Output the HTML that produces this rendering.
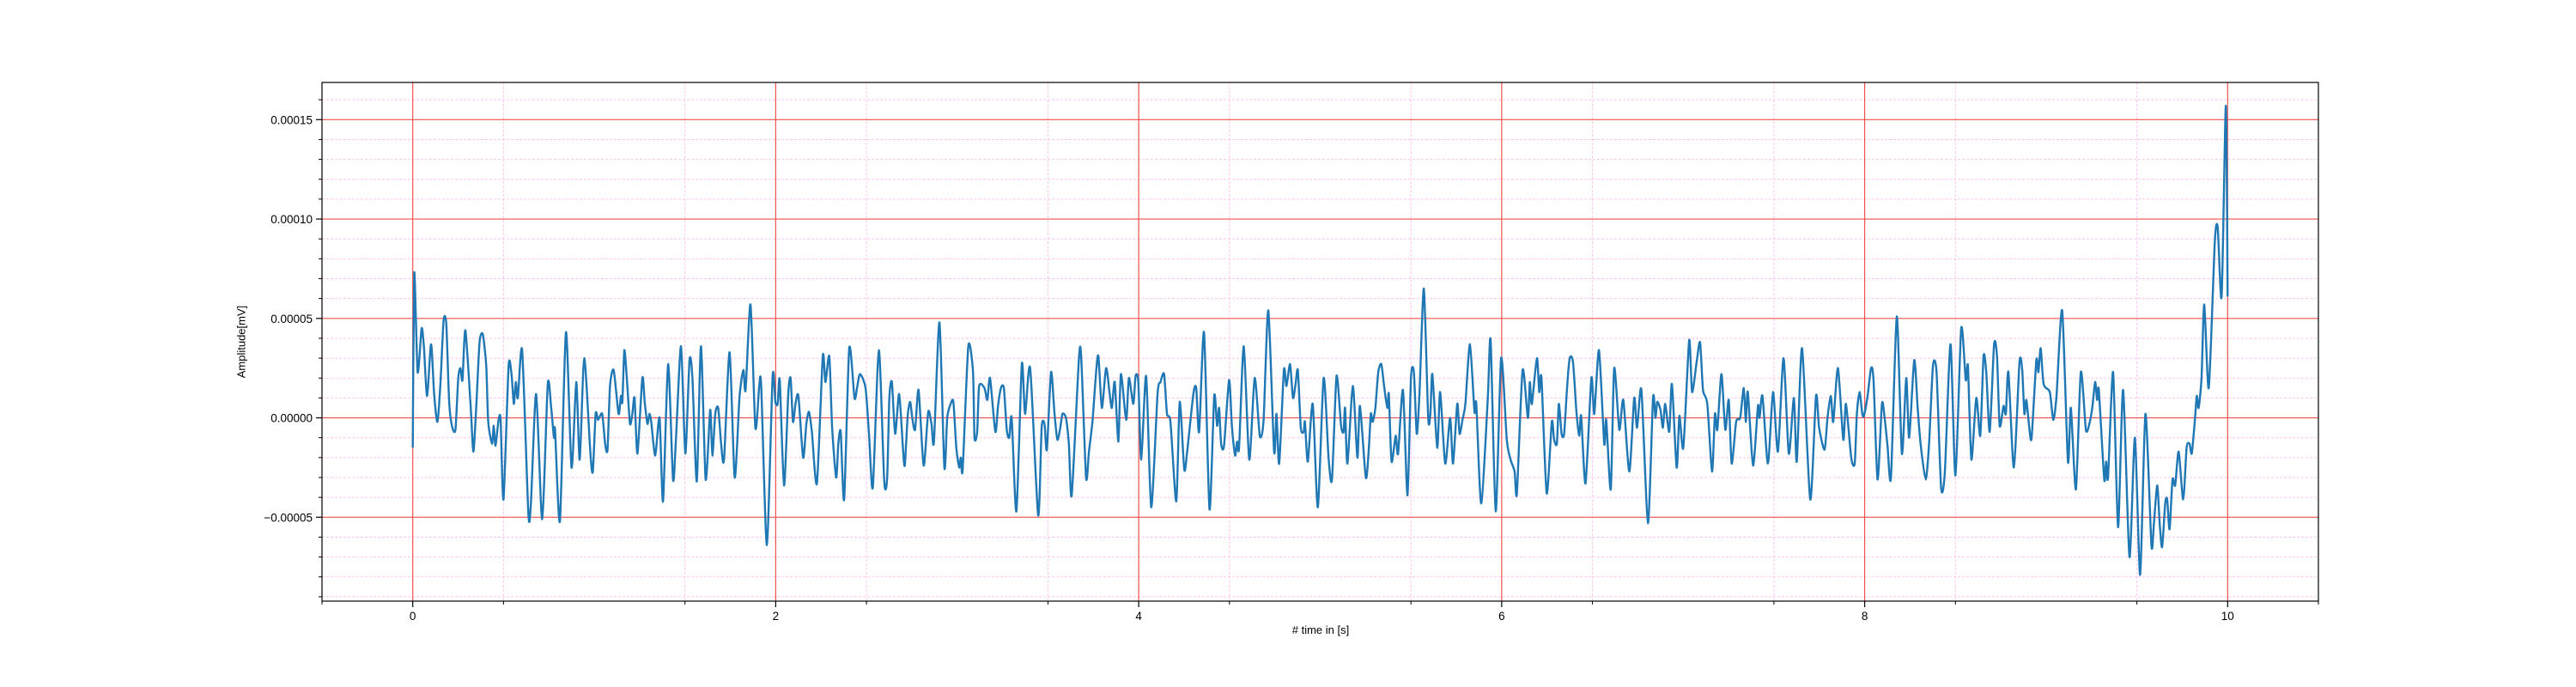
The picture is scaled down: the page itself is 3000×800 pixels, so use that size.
<!DOCTYPE html>
<html><head><meta charset="utf-8"><style>
html,body{margin:0;padding:0;background:#fff;}
svg{display:block;font-family:"Liberation Sans","DejaVu Sans",sans-serif;}
</style></head><body>
<svg id="chart" width="3000" height="800" viewBox="0 0 3000 800">
<g id="grid"></g>
<g id="series"></g>
<g id="axes"></g>
<text x="282" y="398" transform="rotate(-90 282 398)" text-anchor="middle" dominant-baseline="middle" font-size="13" fill="#000">Amplitude[mV]</text>
<text x="1538" y="738" text-anchor="middle" font-size="13" fill="#000"># time in [s]</text>
</svg>
<script>
// data: time (s) and amplitude (units of 1e-5 mV)
const times = [0.000,0.008,0.027,0.049,0.062,0.079,0.101,0.118,0.136,0.153,0.170,0.185,0.200,0.216,0.235,0.251,0.263,0.274,0.290,0.319,0.334,0.350,0.368,0.386,0.405,0.416,0.437,0.446,0.456,0.473,0.484,0.500,0.528,0.544,0.557,0.568,0.579,0.603,0.637,0.651,0.680,0.713,0.744,0.762,0.778,0.784,0.811,0.844,0.875,0.901,0.920,0.945,0.979,0.992,1.008,1.021,1.044,1.060,1.073,1.087,1.107,1.134,1.147,1.155,1.166,1.181,1.197,1.210,1.222,1.238,1.265,1.278,1.293,1.304,1.314,1.336,1.360,1.379,1.407,1.434,1.450,1.478,1.502,1.525,1.541,1.565,1.588,1.614,1.639,1.651,1.667,1.683,1.699,1.715,1.746,1.774,1.801,1.822,1.834,1.861,1.888,1.909,1.920,1.951,1.983,
1.998,2.011,2.022,2.046,2.069,2.082,2.095,2.109,2.125,2.151,2.169,2.183,2.199,2.227,2.259,2.274,2.295,2.311,2.333,2.345,2.358,2.377,2.405,2.434,2.448,2.464,2.495,2.514,2.535,2.568,2.598,2.614,2.626,2.640,2.658,2.680,2.700,2.711,2.727,2.741,2.752,2.768,2.787,2.815,2.840,2.858,2.872,2.902,2.929,2.945,2.964,2.979,2.995,3.011,3.020,3.030,3.061,3.087,3.095,3.110,3.121,3.150,3.166,3.181,3.210,3.225,3.241,3.257,3.273,3.287,3.300,3.326,3.356,3.374,3.402,3.446,3.465,3.481,3.494,3.517,3.536,3.552,3.568,3.580,3.599,3.615,3.631,3.670,3.683,3.710,3.726,3.746,3.765,3.778,3.797,3.820,3.839,3.852,3.868,3.888,3.902,3.931,3.946,3.970,
3.983,3.998,4.014,4.041,4.069,4.104,4.120,4.140,4.156,4.175,4.207,4.226,4.251,4.267,4.301,4.317,4.333,4.360,4.390,4.416,4.432,4.443,4.454,4.470,4.498,4.514,4.531,4.542,4.553,4.579,4.609,4.639,4.667,4.688,4.714,4.746,4.759,4.774,4.800,4.814,4.834,4.850,4.864,4.877,4.893,4.909,4.916,4.932,4.959,4.987,5.019,5.046,5.065,5.090,5.115,5.129,5.137,5.150,5.180,5.205,5.219,5.251,5.267,5.279,5.289,5.304,5.320,5.337,5.352,5.370,5.378,5.393,5.416,5.429,5.456,5.481,5.500,5.516,5.532,5.547,5.571,5.595,5.607,5.618,5.645,5.661,5.689,5.716,5.732,5.755,5.768,5.784,5.800,5.825,5.850,5.860,5.887,5.923,5.939,
5.967,5.997,6.028,6.049,6.071,6.084,6.115,6.144,6.155,6.166,6.194,6.207,6.219,6.248,6.276,6.289,6.304,6.315,6.330,6.344,6.360,6.375,6.393,6.412,6.427,6.438,6.462,6.494,6.510,6.536,6.565,6.576,6.601,6.620,6.648,6.670,6.703,6.730,6.746,6.770,6.806,6.834,6.847,6.857,6.875,6.888,6.901,6.923,6.938,6.964,6.979,7.001,7.033,7.049,7.074,7.093,7.109,7.133,7.159,7.175,7.188,7.211,7.232,7.251,7.267,7.292,7.314,7.334,7.345,7.356,7.385,7.412,7.421,7.437,7.467,7.495,7.522,7.553,7.582,7.610,7.626,7.655,7.700,7.732,7.749,7.779,7.795,7.814,7.827,7.853,7.882,7.897,7.926,7.945,
7.957,7.972,7.987,7.996,8.016,8.035,8.049,8.071,8.095,8.110,8.126,8.145,8.177,8.205,8.229,8.245,8.273,8.292,8.308,8.336,8.355,8.376,8.396,8.421,8.442,8.473,8.500,8.532,8.557,8.569,8.588,8.615,8.637,8.655,8.670,8.689,8.713,8.729,8.744,8.765,8.778,8.792,8.822,8.853,8.868,8.880,8.891,8.907,8.920,8.946,8.957,8.970,8.986,9.020,9.039,9.057,9.088,9.120,9.136,9.164,9.191,9.219,9.238,9.254,9.270,9.281,9.290,9.320,9.330,9.341,9.369,9.396,9.424,9.459,9.489,9.518,9.547,9.580,9.593,9.612,9.626,9.639,9.656,9.667,9.680,9.696,9.711,9.730,9.755,9.774,9.790,9.802,9.818,9.830,9.840,9.856,9.871,9.896,9.929,9.945,9.967,9.990,10.000];
const amps = [-1.5,7.3,2.3,4.5,3.5,1.1,3.7,1.2,-0.2,1.8,4.9,4.7,0.9,-0.4,-0.6,2.0,2.5,1.9,4.4,0.6,-1.7,0.6,3.8,4.2,2.6,-0.2,-1.3,-0.4,-1.4,-0.1,-0.1,-4.1,2.6,2.2,0.7,1.8,1.0,3.4,-4.8,-4.3,1.2,-5.1,1.7,0.6,-1.0,-0.6,-5.2,4.3,-2.5,1.8,-2.1,3.0,-1.8,-2.7,0.2,-0.1,0.2,-1.3,-1.6,1.6,2.4,0.2,1.1,0.8,3.4,1.8,-0.3,0.2,1.0,-1.8,2.0,0.8,-0.3,0.2,-0.2,-1.9,0,-4.2,2.7,-3.1,-1.1,3.6,-1.8,2.9,2.0,-3.2,3.6,-3.1,0.4,-1.9,0.2,0.5,-1.3,-2.1,3.3,-3.0,1.1,2.4,1.4,5.7,-0.5,1.6,1.6,-6.4,2.1,
0.8,0.7,1.9,-3.4,1.2,2.0,-0.2,0.7,1.1,-2.0,-0.3,0.3,-0.7,-3.3,3.1,1.8,3.1,-0.5,-3.0,-1.3,-0.7,-4.1,3.5,1.0,1.5,2.2,1.5,-0.8,-3.5,3.4,-3.2,-3.0,1.0,1.8,-0.8,1.2,-1.4,-2.4,0.1,0.8,0,-0.6,1.4,-2.4,0.3,-0.3,-1.2,4.8,-2.5,0,0.7,0.8,-1.5,-2.5,-2.0,-2.6,3.6,2.3,-1.0,-0.7,1.6,1.5,0.9,2.0,-0.7,0.6,1.5,1.5,-0.6,-1.0,0,-4.7,2.7,0.2,2.5,-4.9,-0.5,-0.3,-1.6,2.3,0.2,-1.1,-0.5,0.2,0,-1.3,-3.9,2.9,3.1,-3.0,-1.7,-0.1,2.3,3.1,0.5,2.5,1.3,0.5,1.8,-1.2,2.2,-0.1,2.0,0.7,
2.1,1.8,-2.1,2.1,-4.5,1.2,1.8,2.2,0.2,-0.2,-4.2,0.8,-2.6,-1.7,1.2,1.5,-0.7,4.3,-4.6,1.1,-0.4,0.5,-1.3,-1.4,1.9,-0.5,-1.9,-1.2,-1.5,3.6,-2.1,2.0,-0.9,-0.1,5.4,-1.7,0.2,-2.3,2.4,1.6,2.7,1.0,1.7,2.4,-0.5,-0.7,-0.2,-2.2,0.7,-4.5,2.0,-2.0,-3.1,2.1,-0.4,-0.7,0.5,-2.3,1.6,-2.0,0.6,-3.0,-1.7,0.2,-0.2,0.5,2.3,2.7,1.6,0.5,1.2,-2.2,-0.9,-1.8,1.4,-3.9,2.0,2.3,-0.8,1.2,6.5,0,0.2,2.2,-1.5,1.3,-2.3,0,-2.3,0.7,-0.8,-0.1,0.7,3.7,0.3,0.7,-4.3,0.9,3.9,
-4.7,3.0,-1.1,-2.1,-2.7,-3.8,2.4,0,1.8,0.7,3.0,1.3,2.0,-3.8,-0.2,-1.1,-1.3,0.7,-0.8,-0.8,1.5,3.0,2.8,0.3,-0.9,0.1,-3.3,2.0,0.2,3.4,-1.3,-0.1,-3.6,2.5,-0.6,0.9,-2.7,1.0,-0.5,1.4,-5.3,1.0,0,0.8,0.4,-0.5,0.7,-0.7,1.7,-2.5,0.1,-1.5,3.9,1.3,2.8,3.8,1.4,0.7,-2.7,0.2,-0.6,2.2,-0.6,0.9,-2.3,-0.2,0,1.5,-0.2,1.3,-2.4,0.6,0,1.1,-2.3,1.3,-1.7,3.0,-1.8,1.0,-2.2,3.5,-4.1,1.1,-0.5,-1.6,0,1.1,-0.2,2.5,-1.1,0.7,-2.0,-2.3,
0.2,1.3,0.2,0.1,1.1,2.5,1.9,-3.1,0.7,0,-1.4,-3.0,5.1,-1.8,2.0,-1.0,2.9,0.5,-1.3,-3.1,-1.3,2.6,2.3,-3.5,-2.7,3.7,-2.9,4.5,1.9,2.6,-2.1,1.0,-0.9,3.1,2.3,-0.7,3.7,3.1,-0.4,0.6,0.2,2.3,-2.5,2.8,2.4,0.2,0.9,-0.5,-1.0,2.9,2.3,3.5,1.7,1.3,-0.1,1.1,5.4,-2.2,0.5,-3.6,2.3,-0.6,-0.3,0.5,1.8,0.9,1.4,-3.1,-2.2,-3.0,2.3,-5.5,1.4,-7.0,-1.0,-7.9,0.2,-6.4,-5.4,-3.4,-5.4,-6.5,-4.3,-4.1,-5.6,-3.1,-3.4,-1.7,-4.1,-1.5,-1.3,-1.8,-0.3,1.1,0.5,2.0,5.7,1.5,8.8,9.6,6.1,15.7,6.1];
const xMajorTicks = [0,2,4,6,8,10];
const xTickLabels = ["0","2","4","6","8","10"];
const yMajorTicks = [-5,0,5,10,15];
const yTickLabels = ["\u22120.00005","0.00000","0.00005","0.00010","0.00015"];

const NS="http://www.w3.org/2000/svg";
const L=375,R=2700,T=96,B=700;
const xMin=-0.5,xMax=10.5,yMin=-9.22,yMax=16.87;
const xs=v=>L+(v-xMin)/(xMax-xMin)*(R-L);
const ys=v=>B-(v-yMin)/(yMax-yMin)*(B-T);
function mk(tag,attrs,parent){const e=document.createElementNS(NS,tag);for(const k in attrs)e.setAttribute(k,attrs[k]);parent.appendChild(e);return e;}
const grid=document.getElementById('grid'),axes=document.getElementById('axes'),series=document.getElementById('series');

for(let v=-9;v<=16;v++){ if(v%5===0)continue;
  const g=mk('line',{x1:L,x2:R,y1:ys(v),y2:ys(v),stroke:'#ffc4ee','stroke-width':1,'stroke-dasharray':'3,2'},grid);
  
  
  const t=mk('line',{x1:L-4,x2:L,y1:ys(v),y2:ys(v),stroke:'#000','stroke-width':1},axes);
  
  
}
for(let v=-0.5;v<=10.5;v+=1){
  const g=mk('line',{x1:xs(v),x2:xs(v),y1:T,y2:B,stroke:'#ffc4ee','stroke-width':1,'stroke-dasharray':'3,2'},grid);
  
  
  const t=mk('line',{x1:xs(v),x2:xs(v),y1:B,y2:B+4,stroke:'#000','stroke-width':1},axes);
  
  
}
yMajorTicks.forEach((v,i)=>{
  const g=mk('line',{x1:L,x2:R,y1:ys(v),y2:ys(v),stroke:'#f05050','stroke-width':1.2},grid);
  
  
  const t=mk('line',{x1:L-7,x2:L,y1:ys(v),y2:ys(v),stroke:'#000','stroke-width':1.2},axes);
  
  
  const tx=mk('text',{x:L-11,y:ys(v)+5,'text-anchor':'end','font-size':13.5,fill:'#000'},axes);
  tx.textContent=yTickLabels[i];
  
  
});
xMajorTicks.forEach((v,i)=>{
  const g=mk('line',{x1:xs(v),x2:xs(v),y1:T,y2:B,stroke:'#f05050','stroke-width':1.2},grid);
  
  
  const t=mk('line',{x1:xs(v),x2:xs(v),y1:B,y2:B+7,stroke:'#000','stroke-width':1.2},axes);
  
  
  const tx=mk('text',{x:xs(v),y:B+22,'text-anchor':'middle','font-size':13.5,fill:'#000'},axes);
  tx.textContent=xTickLabels[i];
  
  
});
// series: smooth Catmull-Rom through data points
const P=times.map((t,i)=>[xs(t),ys(amps[i])]);
let d='M'+P[0][0].toFixed(1)+','+P[0][1].toFixed(1);
for(let i=0;i<P.length-1;i++){
  const p0=P[Math.max(0,i-1)],p1=P[i],p2=P[i+1],p3=P[Math.min(P.length-1,i+2)];
  const k=0.12;
  const c1=[p1[0]+(p2[0]-p0[0])*k,p1[1]+(p2[1]-p0[1])*k];
  const c2=[p2[0]-(p3[0]-p1[0])*k,p2[1]-(p3[1]-p1[1])*k];
  d+='C'+c1[0].toFixed(1)+','+c1[1].toFixed(1)+' '+c2[0].toFixed(1)+','+c2[1].toFixed(1)+' '+p2[0].toFixed(1)+','+p2[1].toFixed(1);
}
const p=mk('path',{d:d,fill:'none',stroke:'#1f77b4','stroke-width':2.4,'stroke-linejoin':'round'},series);


const f=mk('rect',{x:L,y:T,width:R-L,height:B-T,fill:'none',stroke:'#000','stroke-width':1.2},axes);


</script>
</body></html>
